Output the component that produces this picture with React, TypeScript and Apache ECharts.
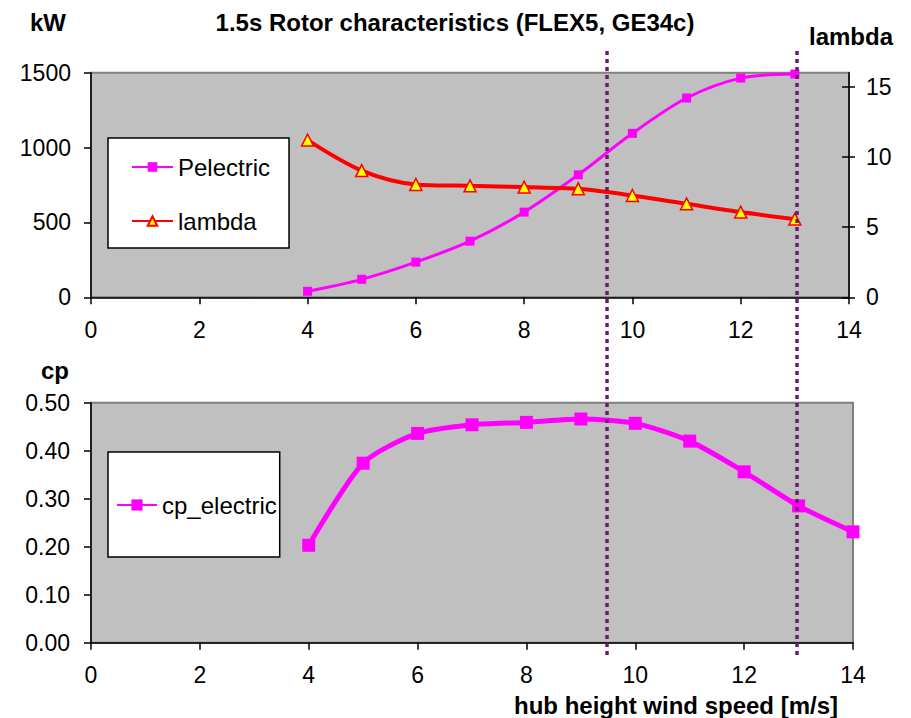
import React, { useEffect, useRef } from "react";
import * as echarts from "echarts";

// ---- data ----
const windSpeedTop = [4, 5, 6, 7, 8, 9, 10, 11, 12, 13];
const pElectric = [40, 120, 235, 375, 569, 818, 1095, 1331, 1464, 1491];
const lambdaValues = [11.2, 9.03, 8.04, 7.94, 7.85, 7.73, 7.25, 6.66, 6.07, 5.57];

const windSpeedBottom = [4, 5, 6, 7, 8, 9, 10, 11, 12, 13, 14];
const cpElectric = [0.203, 0.374, 0.436, 0.454, 0.459, 0.466, 0.457, 0.42, 0.356, 0.285, 0.231];

const ratedSpeeds = [9.5, 13];
const lambdaTicks = [0, 5, 10, 15];

const titleText = "1.5s Rotor characteristics (FLEX5, GE34c)";
const xAxisTitle = "hub height wind speed [m/s]";

const FONT = "Liberation Sans, Arial, sans-serif";

export default function App() {
  const ref = useRef<HTMLDivElement>(null);

  useEffect(() => {
    if (!ref.current) return;
    const chart = echarts.init(ref.current, undefined, { renderer: "svg" });

    const axisLineStyle = { color: "#000", width: 1.5 };
    const labelStyle = { fontSize: 23, color: "#000", fontFamily: FONT };
    const legendText = { fontSize: 24, color: "#000", fontFamily: FONT };

    const xAxisBase = (gridIndex: number) => ({
      type: "value",
      gridIndex,
      min: 0,
      max: 14,
      interval: 2,
      position: "bottom",
      axisLine: { show: true, onZero: false, lineStyle: axisLineStyle },
      axisTick: { show: true, length: 7, lineStyle: axisLineStyle },
      axisLabel: { ...labelStyle, margin: 21 },
      splitLine: { show: false },
    });

    const topPairs = (vals: number[]) => windSpeedTop.map((x, i) => [x, vals[i]]);
    const bottomPairs = windSpeedBottom.map((x, i) => [x, cpElectric[i]]);

    const boldText = (text: string, x: number, y: number) => ({
      type: "text", x, y,
      style: { text, fill: "#000", font: `bold 24px ${FONT}`, textAlign: "center", textVerticalAlign: "middle" },
    });

    const option: any = {
      animation: false,
      backgroundColor: "#fff",
      textStyle: { fontFamily: FONT },
      grid: [
        {
          left: 91, right: 62, top: 72.7, bottom: 718 - 297.3,
          show: true, backgroundColor: "#C0C0C0", borderColor: "#808080", borderWidth: 2,
        },
        {
          left: 91, right: 58, top: 402.7, bottom: 718 - 642.7,
          show: true, backgroundColor: "#C0C0C0", borderColor: "#808080", borderWidth: 2,
        },
        { left: 91, right: 60, top: 51, bottom: 718 - 655, show: false },
      ],
      xAxis: [
        xAxisBase(0),
        xAxisBase(1),
        { type: "value", gridIndex: 2, min: 0, max: 14, show: false },
      ],
      yAxis: [
        {
          type: "value", gridIndex: 0, position: "left", min: 0, max: 1500, interval: 500,
          axisLine: { show: true, lineStyle: axisLineStyle },
          axisTick: { show: true, length: 7, lineStyle: axisLineStyle },
          axisLabel: { ...labelStyle, margin: 20, formatter: (v: number) => String(v) },
          splitLine: { show: false },
        },
        {
          type: "value", gridIndex: 0, position: "right", min: 0, max: 16, interval: 5,
          axisLine: { show: true, lineStyle: axisLineStyle },
          axisTick: { show: true, length: 6, lineStyle: axisLineStyle, customValues: lambdaTicks },
          axisLabel: { ...labelStyle, margin: 17, customValues: lambdaTicks },
          splitLine: { show: false },
        },
        {
          type: "value", gridIndex: 1, position: "left", min: 0, max: 0.5, interval: 0.1,
          axisLine: { show: true, lineStyle: axisLineStyle },
          axisTick: { show: true, length: 7, lineStyle: axisLineStyle },
          axisLabel: { ...labelStyle, margin: 21, formatter: (v: number) => v.toFixed(2) },
          splitLine: { show: false },
        },
        {
          type: "value", gridIndex: 0, position: "right", min: 0, max: 16, interval: 5,
          axisLine: { show: false },
          axisTick: { show: true, inside: true, length: 7, lineStyle: axisLineStyle, customValues: lambdaTicks },
          axisLabel: { show: false },
          splitLine: { show: false },
        },
        { type: "value", gridIndex: 2, min: 0, max: 1, show: false },
      ],
      legend: [
        {
          orient: "vertical",
          left: 108, top: 138,
          backgroundColor: "#fff", borderColor: "#000", borderWidth: 1.5,
          padding: [17, 19, 15, 23],
          itemGap: 30, itemWidth: 41, itemHeight: 12,
          textStyle: { ...legendText },
          data: ["Pelectric", "lambda"],
        },
        {
          orient: "vertical",
          left: 108, top: 452,
          backgroundColor: "#fff", borderColor: "#000", borderWidth: 1.5,
          padding: [41, 3, 40, 8],
          itemWidth: 40, itemHeight: 14,
          textStyle: { ...legendText },
          data: ["cp_electric"],
        },
      ],
      series: [
        {
          name: "Pelectric", type: "line", xAxisIndex: 0, yAxisIndex: 0,
          data: topPairs(pElectric), smooth: 0.3,
          symbol: "rect", symbolSize: 9,
          lineStyle: { color: "#FF00FF", width: 3 },
          itemStyle: { color: "#FF00FF" },
          z: 3,
        },
        {
          name: "lambda", type: "line", xAxisIndex: 0, yAxisIndex: 1,
          data: topPairs(lambdaValues), smooth: 0.3,
          symbol: "triangle", symbolSize: 12,
          lineStyle: { color: "#FF0000", width: 4 },
          itemStyle: { color: "#FFFF00", borderColor: "#FF0000", borderWidth: 1.5 },
          z: 3,
        },
        {
          name: "cp_electric", type: "line", xAxisIndex: 1, yAxisIndex: 2,
          data: bottomPairs, smooth: 0.25,
          symbol: "rect", symbolSize: 13,
          lineStyle: { color: "#FF00FF", width: 5 },
          itemStyle: { color: "#FF00FF" },
          z: 3,
        },
        {
          name: "rated", type: "line", xAxisIndex: 2, yAxisIndex: 4,
          data: [],
          z: 4,
          markLine: {
            silent: true,
            symbol: "none",
            label: { show: false },
            lineStyle: { color: "#6E1A6E", width: 3.5, type: [4, 4] },
            data: ratedSpeeds.map((v) => ({ xAxis: v })),
          },
        },
      ],
      graphic: [
        boldText(titleText, 455, 22),
        boldText("kW", 48, 22),
        boldText("lambda", 851, 36),
        boldText("cp", 55, 370),
        boldText(xAxisTitle, 676, 705),
      ],
    };

    chart.setOption(option);
    return () => chart.dispose();
  }, []);

  return (
    <div
      ref={ref}
      style={{ position: "fixed", left: 0, top: 0, width: 911, height: 718 }}
    />
  );
}
